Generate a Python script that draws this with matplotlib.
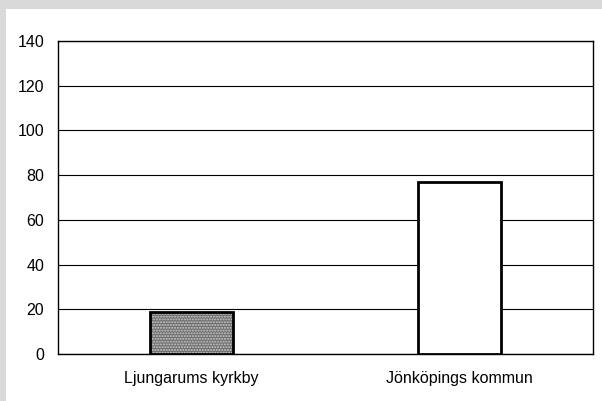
import matplotlib
matplotlib.use("Agg")
import matplotlib.pyplot as plt
from matplotlib.patches import Rectangle

categories = ["Ljungarums kyrkby", "Jönköpings kommun"]
values = [19, 77]
yticks = [0, 20, 40, 60, 80, 100, 120, 140]

plt.rcParams["font.family"] = ["Liberation Sans", "DejaVu Sans"]
plt.rcParams["hatch.linewidth"] = 1.0

fig = plt.figure(figsize=(6.02, 4.01), dpi=100, facecolor="#d9d9d9")
# white panel with the grey strip left and top
fig.patches.append(Rectangle((6 / 602, 0), 1, 1 - 9 / 401, transform=fig.transFigure,
                             facecolor="white", edgecolor="none", zorder=-10))
ax = fig.add_axes([58 / 602, 1 - 354 / 401, 535 / 602, 313 / 401])
ax.set_zorder(5)
ax.set_facecolor("white")

x = list(range(len(categories)))
width = 0.31
# patterned fill for the first bar, plain white for the second
ax.bar(x[0], values[0], width, color="#6a6a6a", hatch="......", edgecolor="#d0d0d0",
       linewidth=0, zorder=3)
ax.bar(x[1], values[1], width, color="white", linewidth=0, zorder=3)
ax.bar(x, values, width, fill=False, edgecolor="black", linewidth=2, zorder=4)

ax.set_xlim(-0.5, 1.5)
ax.set_ylim(0, 140)
ax.set_yticks(yticks)
ax.set_xticks(x)
ax.set_xticklabels(categories)
ax.yaxis.grid(True, color="black", linewidth=0.8, zorder=1)
ax.set_axisbelow(True)
ax.tick_params(length=0, labelsize=11.5, colors="black")
ax.tick_params(axis="y", pad=10)
ax.tick_params(axis="x", pad=12)
for s in ax.spines.values():
    s.set_color("black")
    s.set_linewidth(1)

fig.savefig("out.png", dpi=100, facecolor=fig.get_facecolor())
